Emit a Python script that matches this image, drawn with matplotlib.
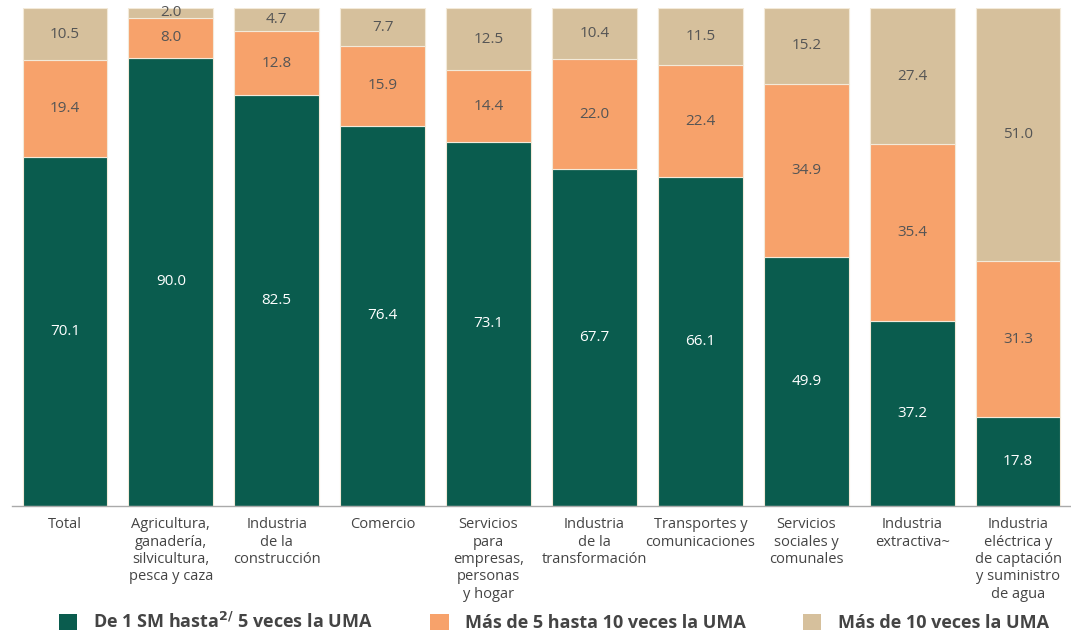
import matplotlib
matplotlib.use("Agg")
import matplotlib.pyplot as plt
from matplotlib.patches import Patch
import numpy as np

categories = ["Total", "Agricultura,\nganadería,\nsilvicultura,\npesca y caza",
              "Industria\nde la\nconstrucción", "Comercio",
              "Servicios\npara\nempresas,\npersonas\ny hogar",
              "Industria\nde la\ntransformación", "Transportes y\ncomunicaciones",
              "Servicios\nsociales y\ncomunales", "Industria\nextractiva~",
              "Industria\neléctrica y\nde captación\ny suministro\nde agua"]
low = [70.1, 90.0, 82.5, 76.4, 73.1, 67.7, 66.1, 49.9, 37.2, 17.8]
mid = [19.4, 8.0, 12.8, 15.9, 14.4, 22.0, 22.4, 34.9, 35.4, 31.3]
high = [10.5, 2.0, 4.7, 7.7, 12.5, 10.4, 11.5, 15.2, 27.4, 51.0]
series_names = [r"De 1 SM hasta$^{\mathbf{2/}}$ 5 veces la UMA",
                "Más de 5 hasta 10 veces la UMA", "Más de 10 veces la UMA"]
colors = ["#0a5c4e", "#f7a26b", "#d6c09c"]
text_colors = ["white", "#555555", "#555555"]

plt.rcParams['font.family'] = ['Open Sans', 'DejaVu Sans']

fig = plt.figure(figsize=(10.71, 6.37), dpi=100)
ax = fig.add_axes([12/1071, 1 - 506/637, 1 - 12/1071, 498/637])

x = np.arange(len(categories))
bottom = np.zeros(len(categories))
for vals, c, tc in zip([low, mid, high], colors, text_colors):
    vals = np.array(vals)
    ax.bar(x, vals, 0.8, bottom=bottom, color=c, edgecolor="#f3ead9", linewidth=0.8)
    for xi, b, v in zip(x, bottom, vals):
        ax.text(xi, b + v / 2, f"{v:.1f}", ha="center", va="center", color=tc, fontsize=11)
    bottom = bottom + vals

ax.set_xlim(-0.5, 9.5)
ax.set_ylim(0, 100)
ax.set_xticks(x)
ax.set_xticklabels(categories, fontsize=10.5, color="#444444", linespacing=1.22)
ax.tick_params(axis="x", length=0, pad=8)
ax.set_yticks([])
for s in ["top", "right", "left"]:
    ax.spines[s].set_visible(False)
ax.spines["bottom"].set_color("#aaaaaa")
ax.spines["bottom"].set_linewidth(1)

handles = [Patch(facecolor=c) for c in colors]
leg = fig.legend(handles, series_names, loc="center", bbox_to_anchor=(0.517, 1 - 622/637),
                 ncol=3, frameon=False, prop={"weight": "bold", "size": 13},
                 handlelength=1.0, handleheight=1.0, columnspacing=3.2, handletextpad=0.9)
for t in leg.get_texts():
    t.set_color("#444444")

fig.savefig("out.png", dpi=100)
